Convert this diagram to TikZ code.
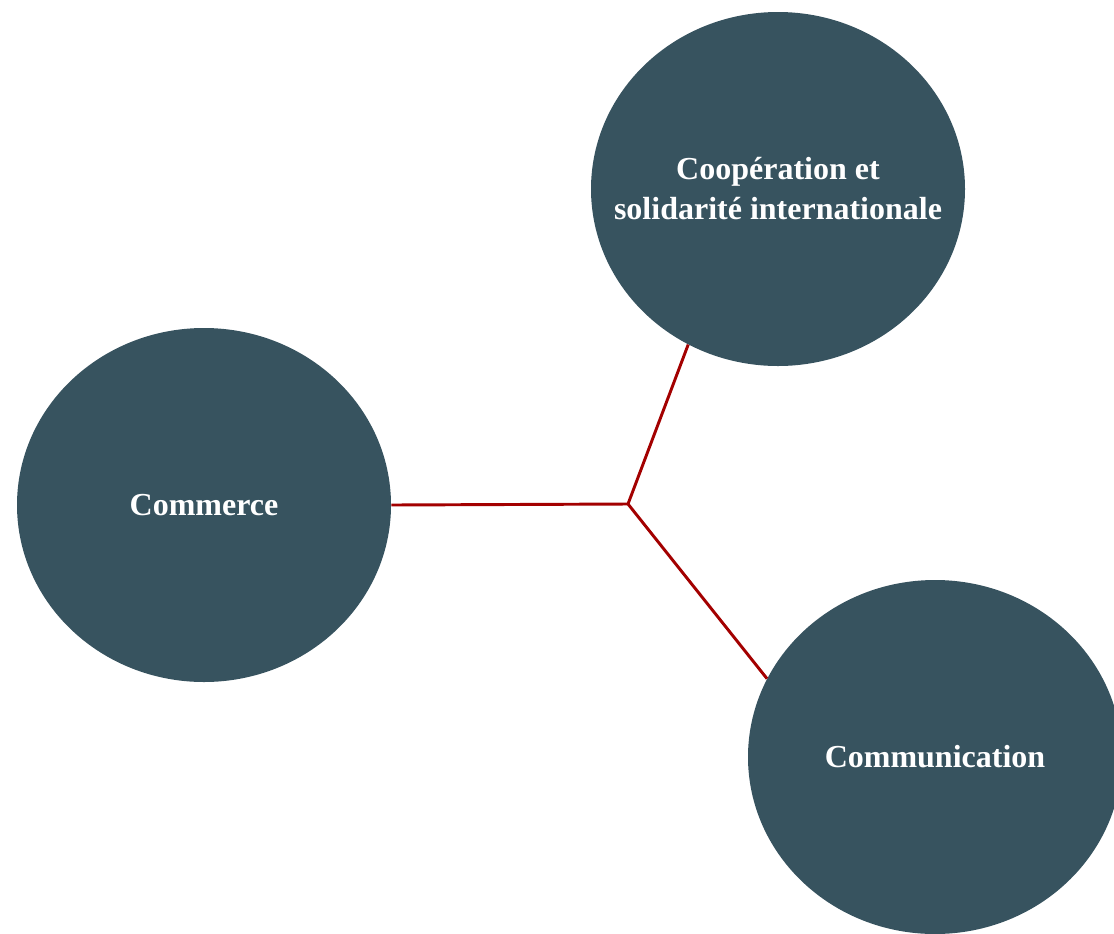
\documentclass[tikz,border=0pt]{standalone}
\usepackage{fontspec}
\setmainfont{Liberation Serif}
\usetikzlibrary{shapes.geometric}

\definecolor{slate}{RGB}{55,83,95}
\definecolor{linkred}{RGB}{163,0,0}

\tikzset{
    bubble/.style={ellipse, fill=slate, text=white, inner sep=0pt,
        minimum width=280.5pt, minimum height=265.5pt, align=center,
        font=\fontsize{24}{30}\selectfont\bfseries},
    link/.style={draw=linkred, line width=2.2pt}
}

\begin{document}
\begin{tikzpicture}[x=0.75pt, y=-0.75pt]
\useasboundingbox (0,0) rectangle (1114,933);

\node[bubble, inner xsep=-60pt] (Coop) at (778,189) {Coopération et\\solidarité internationale};
\node[bubble] (Commerce) at (204,505) {Commerce};
\node[bubble] (Comm) at (935,757) {Communication};

\coordinate (Hub) at (628,504);

% branches
\draw[link] (Commerce.east) -- (Hub);
\draw[link] (Hub) -- (Coop.240);
\draw[link] (Hub) -- (Comm.155);
\end{tikzpicture}
\end{document}
